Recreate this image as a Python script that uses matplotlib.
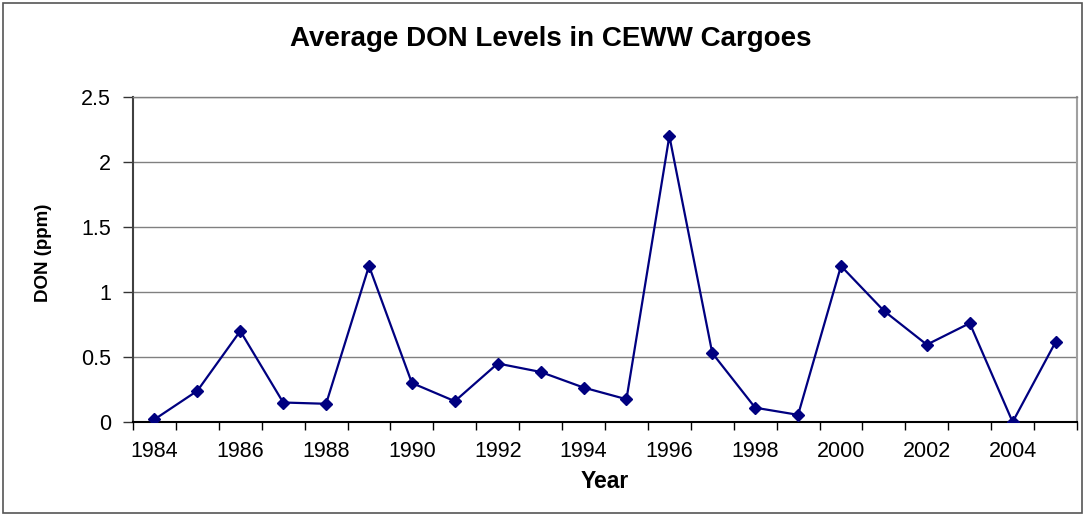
import matplotlib
matplotlib.use("Agg")
import matplotlib.pyplot as plt
from matplotlib.patches import Rectangle
import numpy as np

years = [1984, 1985, 1986, 1987, 1988, 1989, 1990, 1991, 1992, 1993, 1994,
         1995, 1996, 1997, 1998, 1999, 2000, 2001, 2002, 2003, 2004, 2005]
don_ppm = [0.02, 0.24, 0.70, 0.15, 0.14, 1.20, 0.30, 0.16, 0.45, 0.385, 0.265,
           0.175, 2.20, 0.53, 0.11, 0.055, 1.20, 0.855, 0.595, 0.76, 0.0, 0.615]
y_ticks = [0, 0.5, 1, 1.5, 2, 2.5]
y_tick_labels = ["0", "0.5", "1", "1.5", "2", "2.5"]

plt.rcParams['font.family'] = ['Liberation Sans', 'DejaVu Sans']

W, H = 1085, 515
fig = plt.figure(figsize=(W / 100, H / 100), dpi=100)
fig.patch.set_facecolor('white')

# outer chart border
fig.add_artist(Rectangle((3 / W, 2 / H), 1079 / W, 510 / H, transform=fig.transFigure,
                         fill=False, edgecolor='#555555', linewidth=1.2))

left, right, top, bottom = 133, 1077, 97, 422
ax = fig.add_axes([left / W, 1 - bottom / H, (right - left) / W, (bottom - top) / H])

x = np.arange(len(years))
ax.plot(x, don_ppm, color='#000080', linewidth=1.6, marker='D', markersize=6.5,
        markerfacecolor='#000080', markeredgecolor='#000080', zorder=3)

ax.set_xlim(-0.5, len(years) - 0.5)
ax.set_ylim(0, 2.5)

ax.set_yticks(y_ticks)
ax.set_yticklabels(y_tick_labels, fontsize=15.5)
ax.yaxis.grid(True, color='#808080', linewidth=1.0)
ax.set_axisbelow(True)

ax.set_xticks(x[::2])
ax.set_xticklabels([str(y) for y in years[::2]], fontsize=15.5)
ax.set_xticks(np.arange(-0.5, len(years), 1.0), minor=True)
ax.tick_params(axis='x', which='major', length=0, pad=14)
ax.tick_params(axis='x', which='minor', length=6, width=1.0, color='#000000', direction='out')
ax.tick_params(axis='y', which='major', length=7, width=1.0, color='#333333', pad=9)

ax.spines['left'].set_color('#404040')
ax.spines['left'].set_linewidth(1.5)
ax.spines['bottom'].set_color('#000000')
ax.spines['bottom'].set_linewidth(1.5)
ax.spines['right'].set_color('#a0a0a0')
ax.spines['right'].set_linewidth(1.5)
ax.spines['top'].set_color('#808080')
ax.spines['top'].set_linewidth(1.0)

fig.text(551 / W, 1 - 39 / H, 'Average DON Levels in CEWW Cargoes', ha='center', va='center',
         fontsize=20, fontweight='bold')
fig.text(605 / W, 1 - 482 / H, 'Year', ha='center', va='center', fontsize=16.5, fontweight='bold')
fig.text(44 / W, 1 - 253 / H, 'DON (ppm)', ha='center', va='center', rotation=90,
         fontsize=13.5, fontweight='bold')

fig.savefig('out.png', dpi=100)
